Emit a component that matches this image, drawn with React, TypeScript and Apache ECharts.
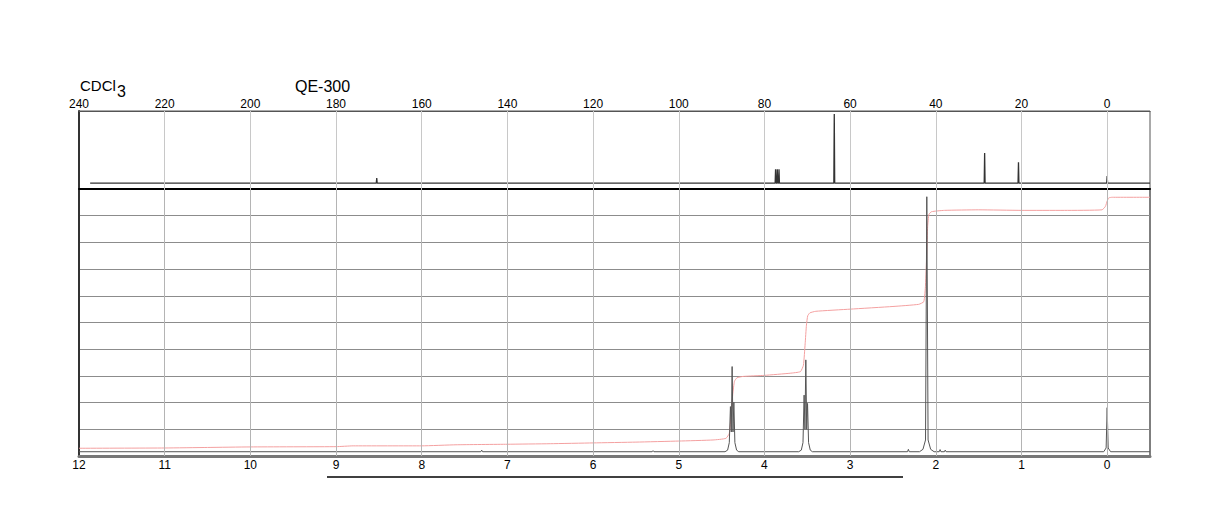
import React, { useEffect, useRef } from 'react';
import * as echarts from 'echarts';

// Tick labels
const TOP_TICKS = [240, 220, 200, 180, 160, 140, 120, 100, 80, 60, 40, 20, 0];
const BOTTOM_TICKS = [12, 11, 10, 9, 8, 7, 6, 5, 4, 3, 2, 1, 0];

// 13C spectrum [ppm, intensity]
const C13_SPECTRUM = [
  [237.4, 7.6], [170.6, 7.6], [170.5, 13.9], [170.4, 7.6],
  [77.5, 7.6], [77.4, 25.3], [77.3, 7.6], [77.1, 7.6], [77.0, 25.3], [76.9, 7.6], [76.7, 7.6], [76.6, 25.3], [76.5, 7.6],
  [63.8, 7.6], [63.7, 96.2], [63.6, 7.6],
  [28.7, 7.6], [28.6, 46], [28.5, 7.6],
  [20.8, 7.6], [20.7, 34.2], [20.6, 7.6],
  [0.1, 7.6], [0, 16.5], [-0.1, 7.6], [-10, 7.6],
];

// 1H spectrum [ppm, intensity]
const H1_SPECTRUM = [
  [12, 0.16], [7.31, 0.16], [7.30, 0.22], [7.29, 0.16],
  [5.31, 0.16], [5.30, 0.2], [5.29, 0.16],
  [4.46, 0.16], [4.43, 0.22], [4.41, 0.5], [4.397, 1.85], [4.387, 0.9], [4.377, 3.35], [4.367, 0.9], [4.357, 2.01], [4.345, 0.5], [4.325, 0.22], [4.3, 0.16],
  [3.6, 0.16], [3.57, 0.22], [3.55, 0.5], [3.537, 2.28], [3.527, 1.0], [3.517, 3.6], [3.507, 1.0], [3.497, 1.97], [3.485, 0.5], [3.465, 0.22], [3.44, 0.16],
  [2.33, 0.16], [2.32, 0.25], [2.31, 0.16],
  [2.19, 0.16], [2.15, 0.25], [2.12, 0.6], [2.105, 9.71], [2.09, 0.6], [2.06, 0.25], [2.02, 0.16],
  [1.96, 0.16], [1.95, 0.24], [1.94, 0.16], [1.9, 0.16], [1.89, 0.22], [1.88, 0.16],
  [0.04, 0.16], [0.012, 0.3], [0.0, 1.81], [-0.012, 0.3], [-0.04, 0.16], [-0.5, 0.16],
];

// 1H integral curve [ppm, value]
const H1_INTEGRAL = [
  [12, 0.29], [11, 0.3], [10.5, 0.32], [10, 0.34], [9, 0.35], [8.8, 0.38], [8, 0.38], [7.6, 0.42],
  [7, 0.44], [6.5, 0.46], [6, 0.49], [5.5, 0.52], [5, 0.56], [4.6, 0.6], [4.45, 0.66], [4.41, 0.85],
  [4.39, 1.5], [4.37, 2.3], [4.35, 2.8], [4.32, 2.93], [4.25, 2.98], [4.0, 3.02], [3.7, 3.1], [3.58, 3.16],
  [3.545, 3.4], [3.525, 4.2], [3.51, 4.9], [3.495, 5.25], [3.47, 5.36], [3.4, 5.42], [3.0, 5.5], [2.5, 5.6],
  [2.2, 5.68], [2.14, 5.78], [2.12, 6.4], [2.105, 7.6], [2.095, 8.6], [2.08, 9.05], [2.05, 9.15], [1.9, 9.2],
  [1.5, 9.22], [1.0, 9.2], [0.5, 9.2], [0.06, 9.22], [0.02, 9.35], [0.0, 9.55], [-0.02, 9.67], [-0.06, 9.69], [-0.5, 9.69],
];

const SOLVENT = 'CDCl';
const SOLVENT_SUB = '3';
const INSTRUMENT = 'QE-300';

const FONT = '"Liberation Sans", Arial, Helvetica, sans-serif';

export default function App() {
  const ref = useRef<HTMLDivElement>(null);
  useEffect(() => {
    const chart = echarts.init(ref.current!, null, { renderer: 'svg' });
    const vGrid = (ticks: number[], color: string) => ({
      silent: true,
      symbol: 'none',
      label: { show: false },
      lineStyle: { color, width: 1, type: 'solid' },
      data: ticks.map((t) => ({ xAxis: t })),
    });
    const hiddenY = {
      axisTick: { show: false },
      axisLabel: { show: false },
    };
    chart.setOption({
      animation: false,
      backgroundColor: '#fff',
      grid: [
        { left: 79, right: 74, top: 111, height: 78, show: true, borderColor: '#555', borderWidth: 1 },
        { left: 79, right: 74, top: 189, height: 267, show: true, borderColor: '#555', borderWidth: 1.5 },
      ],
      xAxis: [
        {
          gridIndex: 0, type: 'value', min: -10, max: 240, inverse: true, position: 'top',
          axisLine: { show: true, onZero: false, lineStyle: { color: '#555', width: 1 } },
          axisTick: { show: false }, splitLine: { show: false },
          axisLabel: { customValues: TOP_TICKS, margin: 1, fontSize: 12, color: '#000', fontFamily: FONT },
        },
        {
          gridIndex: 1, type: 'value', min: -0.5, max: 12, inverse: true, position: 'bottom',
          axisLine: { show: true, onZero: false, lineStyle: { color: '#777', width: 3 } },
          axisTick: { show: false }, splitLine: { show: false },
          axisLabel: { customValues: BOTTOM_TICKS, margin: 3, fontSize: 12, color: '#000', fontFamily: FONT },
        },
        {
          gridIndex: 1, type: 'value', min: -0.5, max: 12, inverse: true, position: 'top',
          axisLine: { show: true, onZero: false, lineStyle: { color: '#000', width: 2 } },
          axisTick: { show: false }, axisLabel: { show: false }, splitLine: { show: false },
        },
      ],
      yAxis: [
        {
          gridIndex: 0, type: 'value', min: 0, max: 100, ...hiddenY,
          axisLine: { show: true, onZero: false, lineStyle: { color: '#333', width: 2 } },
          splitLine: { show: false },
        },
        {
          gridIndex: 1, type: 'value', min: 0, max: 10, interval: 1, ...hiddenY,
          axisLine: { show: true, onZero: false, lineStyle: { color: '#333', width: 2 } },
          splitLine: { show: true, lineStyle: { color: '#8c8c8c', width: 1 } },
        },
      ],
      series: [
        {
          type: 'line', xAxisIndex: 0, yAxisIndex: 0, data: [], z: 1,
          markLine: vGrid(TOP_TICKS.filter((t) => t < 240), '#c8c8c8'),
        },
        {
          type: 'line', xAxisIndex: 1, yAxisIndex: 1, data: [], z: 1,
          markLine: vGrid(BOTTOM_TICKS.filter((t) => t < 12), '#b4b4b4'),
        },
        {
          name: '13C', type: 'line', xAxisIndex: 0, yAxisIndex: 0, data: C13_SPECTRUM, z: 3,
          symbol: 'none', lineStyle: { color: '#333', width: 1.3 },
        },
        {
          name: 'integral', type: 'line', xAxisIndex: 1, yAxisIndex: 1, data: H1_INTEGRAL, z: 3,
          symbol: 'none', smooth: 0.15, lineStyle: { color: '#f4a0a0', width: 1 },
        },
        {
          name: '1H', type: 'line', xAxisIndex: 1, yAxisIndex: 1, data: H1_SPECTRUM, z: 4,
          symbol: 'none', lineStyle: { color: '#555', width: 1 },
        },
      ],
      graphic: [
        { type: 'text', x: 80, y: 85, style: { text: SOLVENT, fontSize: 15, fontFamily: FONT, fill: '#000', verticalAlign: 'middle' } },
        { type: 'text', x: 117, y: 91, style: { text: SOLVENT_SUB, fontSize: 16, fontFamily: FONT, fill: '#000', verticalAlign: 'middle' } },
        { type: 'text', x: 295, y: 86, style: { text: INSTRUMENT, fontSize: 16, fontFamily: FONT, fill: '#000', verticalAlign: 'middle' } },
        { type: 'line', shape: { x1: 327, y1: 477, x2: 903, y2: 477 }, style: { stroke: '#000', lineWidth: 1.5 } },
      ],
    });
    return () => chart.dispose();
  }, []);
  return (
    <div
      ref={ref}
      style={{ position: 'absolute', left: 0, top: 0, width: 1224, height: 528 }}
    />
  );
}
